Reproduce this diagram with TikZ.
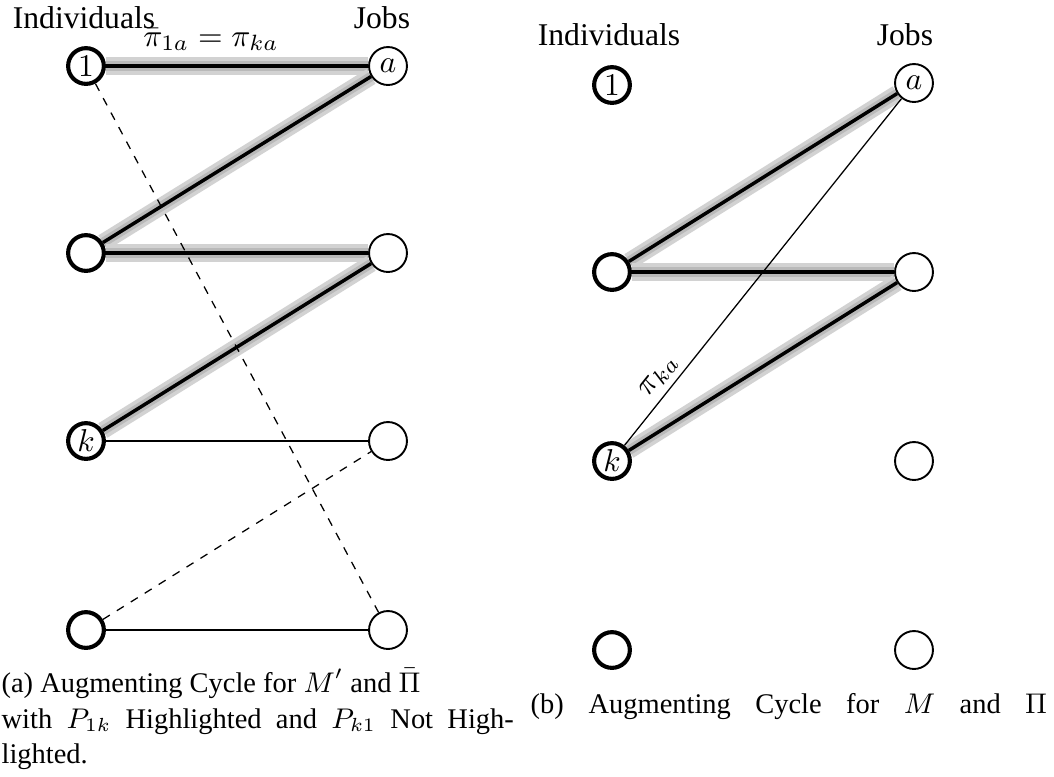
\documentclass[tikz,border=0pt]{standalone}
\usepackage[no-math]{fontspec}
\setmainfont{Liberation Serif}
\pgfdeclarelayer{background}
\pgfsetlayers{background,main}
\tikzset{
  indiv/.style={circle, draw, line width=1.3pt, fill=white, minimum size=11.3pt, inner sep=0pt},
  job/.style={circle, draw, line width=0.6pt, fill=white, minimum size=12pt, inner sep=0pt},
  hl/.style={draw, line width=1.1pt, black,
    preaction={draw, gray!35, line width=5.4pt},
    preaction={draw, gray!55, line width=3pt}},
  plain/.style={draw, line width=0.4pt},
  dsh/.style={draw, line width=0.4pt, dash pattern=on 2.6pt off 2.6pt},
  head/.style={anchor=base, inner sep=0pt},
  capt/.style={anchor=base west, inner sep=0pt, font=\small}
}
\begin{document}
\begin{tikzpicture}[x=0.31625pt, y=-0.31625pt]
\useasboundingbox (0,0) rectangle (1054,776);

% ---------- (a) ----------
\node[head] (hIa) at (84,28) {Individuals};
\node[head] (hJa) at (382,28) {Jobs};
\node[indiv] (L1) at (86,66) {$1$};
\node[indiv] (L2) at (86,253) {};
\node[indiv] (Lk) at (86,441) {$k$};
\node[indiv] (L4) at (86,630) {};
\node[job] (La) at (388,66) {$a$};
\node[job] (Lb) at (388,253) {};
\node[job] (Lc) at (388,441) {};
\node[job] (Ld) at (388,630) {};
\node[anchor=base, inner sep=0pt] (lab1) at (211,46) {$\bar\pi_{1a}=\pi_{ka}$};

\begin{pgfonlayer}{background}
\path[hl] (L1) -- (La);
\path[hl] (La) -- (L2);
\path[hl] (L2) -- (Lb);
\path[hl] (Lb) -- (Lk);
\path[plain] (Lk) -- (Lc);
\path[plain] (L4) -- (Ld);
\path[dsh] (L1) -- (Ld);
\path[dsh] (L4) -- (Lc);
\end{pgfonlayer}

% ---------- (b) ----------
\node[head] (hIb) at (609,45) {Individuals};
\node[head] (hJb) at (905,45) {Jobs};
\node[indiv] (R1) at (612,85) {$1$};
\node[indiv] (R2) at (612,272) {};
\node[indiv] (Rk) at (612,461) {$k$};
\node[indiv] (R4) at (612,650) {};
\node[job] (Ra) at (914,83) {$a$};
\node[job] (Rb) at (914,272) {};
\node[job] (Rc) at (914,461) {};
\node[job] (Rd) at (914,650) {};

\begin{pgfonlayer}{background}
\path[hl] (Ra) -- (R2);
\path[hl] (R2) -- (Rb);
\path[hl] (Rb) -- (Rk);
\path[plain] (Rk) -- node[pos=0.17, sloped, above, inner sep=2pt] (lab2) {$\pi_{ka}$} (Ra);
\end{pgfonlayer}

% ---------- captions ----------
\node[capt] (ca1) at (1,692) {(a) Augmenting Cycle for $M'$ and $\bar\Pi$};
\node[capt] (ca2) at (1,728) {\makebox[162pt][s]{with $P_{1k}$ Highlighted and $P_{k1}$ Not High-}};
\node[capt] (ca3) at (1,763) {lighted.};
\node[capt] (cb0) at (530,713) {(b)};
\node[capt] (cb1) at (588,713) {\makebox[145pt][s]{Augmenting Cycle for $M$ and $\Pi$}};
\end{tikzpicture}
\end{document}
